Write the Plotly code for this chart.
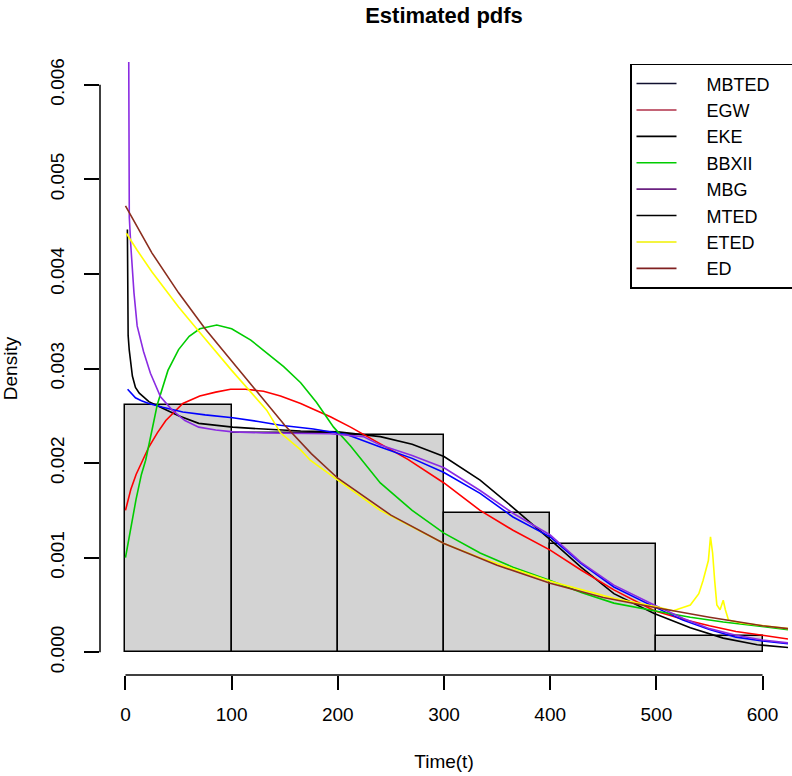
import numpy as np
import plotly.graph_objects as go

# Histogram (density) bins and heights (x 1e-3)
bin_edges = [0, 100, 200, 300, 400, 500, 600]
hist_density_e3 = [2.61, 2.32, 2.30, 1.47, 1.14, 0.17]

# Fitted pdf curves (density x 1e-3)
mbted_t = [1.8, 2.0, 2.5, 3.5, 4.7, 6.5, 9.4, 13, 17, 22, 35, 50, 69, 101, 130, 165, 200, 240,
           270, 300, 334, 365, 400, 429, 460, 498, 532, 563, 595, 624]
mbted_v = [4.47, 3.6, 3.35, 3.2, 3.09, 2.92, 2.80, 2.74, 2.70, 2.65, 2.58, 2.50, 2.42, 2.38, 2.36,
           2.34, 2.33, 2.28, 2.20, 2.07, 1.82, 1.53, 1.19, 0.90, 0.62, 0.41, 0.26, 0.15, 0.08, 0.05]

egw_t = [0, 5, 10, 16, 22, 30, 38, 54, 70, 85, 99, 113, 130, 146, 165, 177, 193, 212, 240, 266,
         300, 334, 365, 400, 429, 460, 498, 525, 550, 575, 600, 624]
egw_v = [1.50, 1.72, 1.88, 2.03, 2.17, 2.32, 2.45, 2.63, 2.71, 2.75, 2.78, 2.78, 2.76, 2.71, 2.63,
         2.57, 2.49, 2.38, 2.20, 2.04, 1.79, 1.50, 1.29, 1.08, 0.87, 0.66, 0.44, 0.35, 0.28, 0.22,
         0.18, 0.14]

eke_t = [2, 5, 9.4, 15, 22, 35, 54, 75, 101, 125, 146, 177, 209, 240, 270, 300, 334, 365, 400,
         429, 460, 498, 525, 550, 575, 600, 624]
eke_v = [2.78, 2.74, 2.69, 2.66, 2.63, 2.59, 2.54, 2.51, 2.48, 2.44, 2.40, 2.36, 2.30, 2.17, 2.05,
         1.90, 1.68, 1.43, 1.22, 0.94, 0.69, 0.48, 0.34, 0.24, 0.16, 0.12, 0.09]

bbxii_t = [0, 5, 10, 15, 19, 25, 30, 40, 50, 60, 70, 86, 100, 118, 135, 149, 165, 180, 196, 212,
           240, 270, 300, 334, 365, 400, 430, 460, 498, 532, 563, 595, 624]
bbxii_v = [1.0, 1.32, 1.62, 1.88, 2.03, 2.35, 2.62, 2.98, 3.2, 3.34, 3.42, 3.46, 3.42, 3.30, 3.15,
           3.02, 2.85, 2.64, 2.38, 2.18, 1.79, 1.50, 1.26, 1.05, 0.90, 0.76, 0.63, 0.52, 0.44,
           0.37, 0.32, 0.28, 0.24]

mbg_t = [3, 3.6, 5, 6.6, 8, 11, 14, 17, 23.5, 33, 44, 56, 69, 85, 101, 130, 193, 224, 240, 270,
         300, 334, 365, 400, 429, 460, 498, 525, 550, 575, 600, 624]
mbg_v = [6.5, 4.6, 4.3, 4.0, 3.8, 3.45, 3.3, 3.18, 2.95, 2.70, 2.56, 2.45, 2.38, 2.35, 2.33, 2.32,
         2.31, 2.28, 2.19, 2.08, 1.95, 1.71, 1.47, 1.24, 0.95, 0.71, 0.50, 0.36, 0.25, 0.18, 0.13,
         0.10]

eted_t = [0.8, 11, 25, 50, 70, 100, 133, 146, 165, 174, 200, 240, 300, 334, 400, 460, 500, 516,
          532, 540, 544, 549, 551, 553, 555, 557, 560, 563, 565, 568, 580, 600, 624]
eted_v = [4.43, 4.25, 4.02, 3.65, 3.38, 2.98, 2.56, 2.32, 2.14, 2.03, 1.82, 1.50, 1.15, 1.0, 0.75,
          0.57, 0.48, 0.44, 0.50, 0.62, 0.76, 0.97, 1.22, 1.05, 0.75, 0.50, 0.45, 0.55, 0.45,
          0.34, 0.31, 0.28, 0.25]

ed_t = [0, 25, 50, 75, 100, 125, 150, 175, 200, 250, 300, 350, 400, 450, 500, 550, 600, 624]
ed_v = [4.72, 4.22, 3.8, 3.42, 3.08, 2.74, 2.40, 2.10, 1.84, 1.45, 1.15, 0.92, 0.73, 0.58, 0.47,
        0.37, 0.28, 0.25]

# Curve colours as drawn in the plot area
curves = [
    ("MBTED", mbted_t, mbted_v, "black"),
    ("EGW", egw_t, egw_v, "red"),
    ("EKE", eke_t, eke_v, "blue"),
    ("BBXII", bbxii_t, bbxii_v, "#00CC00"),
    ("MBG", mbg_t, mbg_v, "#8A2BE2"),
    ("ETED", eted_t, eted_v, "#FFFF00"),
    ("ED", ed_t, ed_v, "#8B2E1E"),
]

# Legend entries with the colours shown in the legend box
legend_names = ["MBTED", "EGW", "EKE", "BBXII", "MBG", "MTED", "ETED", "ED"]
legend_colors = ["#101030", "#B03048", "black", "#00CC00", "#6A2080", "black", "#F0F000", "#802020"]

x_ticks = [0, 100, 200, 300, 400, 500, 600]
y_ticks = [0.000, 0.001, 0.002, 0.003, 0.004, 0.005, 0.006]
y_tick_text = ["0.000", "0.001", "0.002", "0.003", "0.004", "0.005", "0.006"]

FONT = "Liberation Sans, Arial, sans-serif"
NB = "\u00a0"
PAD = NB + "<span style='color:rgba(0,0,0,0)'>_</span>"

fig = go.Figure()

edges = np.array(bin_edges, dtype=float)
fig.add_trace(go.Bar(
    x=edges[:-1], y=np.array(hist_density_e3) / 1000.0, width=np.diff(edges), offset=0,
    marker=dict(color="#D3D3D3", line=dict(color="black", width=1.5)),
    showlegend=False, hoverinfo="skip"))

for name, t, v, col in curves:
    fig.add_trace(go.Scatter(
        x=t, y=np.array(v) / 1000.0, mode="lines", name=name,
        line=dict(color=col, width=1.6), showlegend=False))

for name, col in zip(legend_names, legend_colors):
    fig.add_trace(go.Scatter(
        x=[None], y=[None], mode="lines", name=NB * 5 + name + PAD,
        line=dict(color=col, width=1.6), showlegend=True))

fig.update_layout(
    width=792, height=776,
    margin=dict(l=100, r=4, t=62, b=101, autoexpand=False),
    paper_bgcolor="white", plot_bgcolor="white",
    font=dict(family=FONT, size=19, color="black"),
    title=dict(text="<b>Estimated pdfs</b>", x=0.5, xref="paper", xanchor="center",
               y=1 - 15 / 776, yref="container", yanchor="middle",
               font=dict(size=22, family=FONT, color="black")),
    bargap=0,
    legend=dict(x=(630 - 100) / 688, xanchor="left", y=0.997, yanchor="top",
                bgcolor="white", bordercolor="black", borderwidth=1.5,
                font=dict(size=18, family=FONT), tracegroupgap=0,
                itemwidth=40),
)

fig.update_xaxes(
    range=[-24, 624], tickvals=x_ticks, ticktext=[str(v) for v in x_ticks],
    ticks="outside", ticklen=14, tickwidth=1.5, tickcolor="black",
    showgrid=False, zeroline=False, showline=False, ticklabelstandoff=8,
    title=dict(text="Time(t)", standoff=30, font=dict(size=19, family=FONT)),
)
fig.update_yaxes(
    range=[-0.00024, 0.00624], tickvals=y_ticks, ticktext=y_tick_text, tickangle=-90,
    ticks="outside", ticklen=15, tickwidth=1.5, tickcolor="black",
    showgrid=False, zeroline=False, showline=False, ticklabelstandoff=12,
    title=dict(text="Density", standoff=24, font=dict(size=19, family=FONT)),
)

# R-style axis lines spanning only the tick range
fig.add_shape(type="line", xref="x", yref="paper", x0=x_ticks[0], x1=x_ticks[-1], y0=0, y1=0,
              line=dict(color="black", width=1.5))
fig.add_shape(type="line", xref="paper", yref="y", x0=0, x1=0, y0=y_ticks[0], y1=y_ticks[-1],
              line=dict(color="black", width=1.5))

fig.write_html("out.html",
               config={"displayModeBar": False},
               post_script="document.body.style.margin='0';document.body.style.overflow='hidden';")
